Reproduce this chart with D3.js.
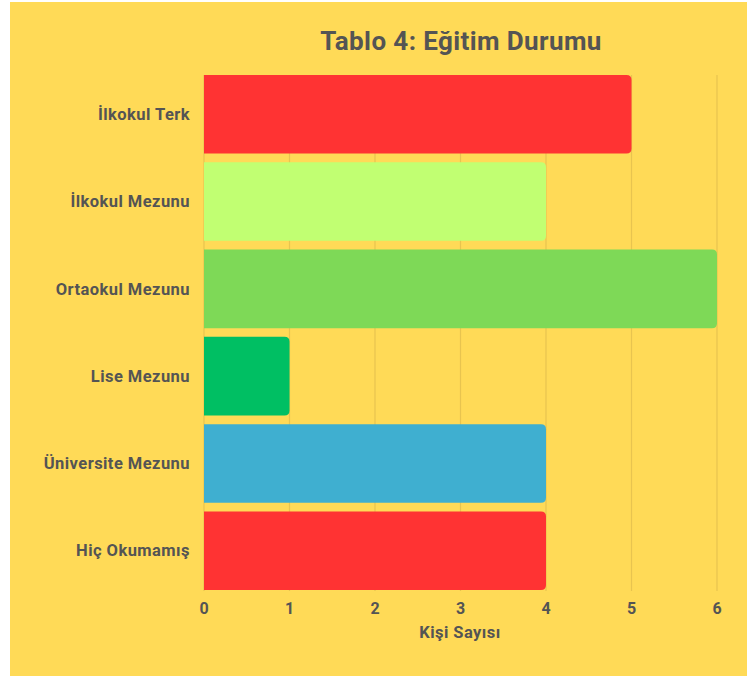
<!DOCTYPE html>
<html><head><meta charset="utf-8">
<script src="https://cdn.jsdelivr.net/npm/d3@7"></script>
<style>body{margin:0;background:#fff}</style>
</head><body>
<svg id="c" width="747" height="677"></svg>
<script>
const categories = ["İlkokul Terk","İlkokul Mezunu","Ortaokul Mezunu","Lise Mezunu","Üniversite Mezunu","Hiç Okumamış"];
const values = [5,4,6,1,4,4];
const colors = ["#FF3333","#C1FF72","#7ED957","#00BF63","#3FAFD0","#FF3333"];
const ticks = [0,1,2,3,4,5,6];
const title = "Tablo 4: Eğitim Durumu";
const xTitle = "Kişi Sayısı";

const svg = d3.select("#c");
svg.append("rect").attr("x",10).attr("y",2).attr("width",737).attr("height",674).attr("fill","#FFDA57");
const font = "Roboto, sans-serif", txt = "#545454";
const x = d3.scaleLinear().domain([0,6]).range([204,717]);
const y = d3.scaleBand().domain(categories).range([75,590]).paddingInner(0.1).paddingOuter(0);

svg.append("g").selectAll("line").data(ticks).join("line")
  .attr("x1",d=>x(d)).attr("x2",d=>x(d)).attr("y1",75).attr("y2",591)
  .attr("stroke","#E8C44F").attr("stroke-width",1.2);

const r = 5;
svg.append("g").selectAll("path").data(categories).join("path")
  .attr("fill",(d,i)=>colors[i])
  .attr("d",(d,i)=>{
    const x0=x(0), x1=x(values[i]), y0=y(d), h=y.bandwidth();
    return `M${x0},${y0}H${x1-r}Q${x1},${y0} ${x1},${y0+r}V${y0+h-r}Q${x1},${y0+h} ${x1-r},${y0+h}H${x0}Z`;
  });

svg.append("g").selectAll("text").data(categories).join("text")
  .attr("x",190).attr("y",d=>y(d)+y.bandwidth()/2).attr("dy","0.35em")
  .attr("text-anchor","end").attr("font-family",font).attr("font-weight","bold")
  .attr("font-size",16.5).attr("letter-spacing",0.45).attr("fill",txt).text(d=>d);

svg.append("g").selectAll("text").data(ticks).join("text")
  .attr("x",d=>x(d)).attr("y",614).attr("text-anchor","middle")
  .attr("font-family",font).attr("font-weight","bold").attr("font-size",16)
  .attr("fill",txt).text(d=>d);

svg.append("text").attr("x",460).attr("y",638).attr("text-anchor","middle")
  .attr("font-family",font).attr("font-weight","bold").attr("font-size",16.5)
  .attr("letter-spacing",0.45).attr("fill",txt).text(xTitle);

svg.append("text").attr("x",461).attr("y",50).attr("text-anchor","middle")
  .attr("font-family",font).attr("font-weight","bold").attr("font-size",26)
  .attr("letter-spacing",0.4).attr("fill",txt).text(title);
</script>
</body></html>
